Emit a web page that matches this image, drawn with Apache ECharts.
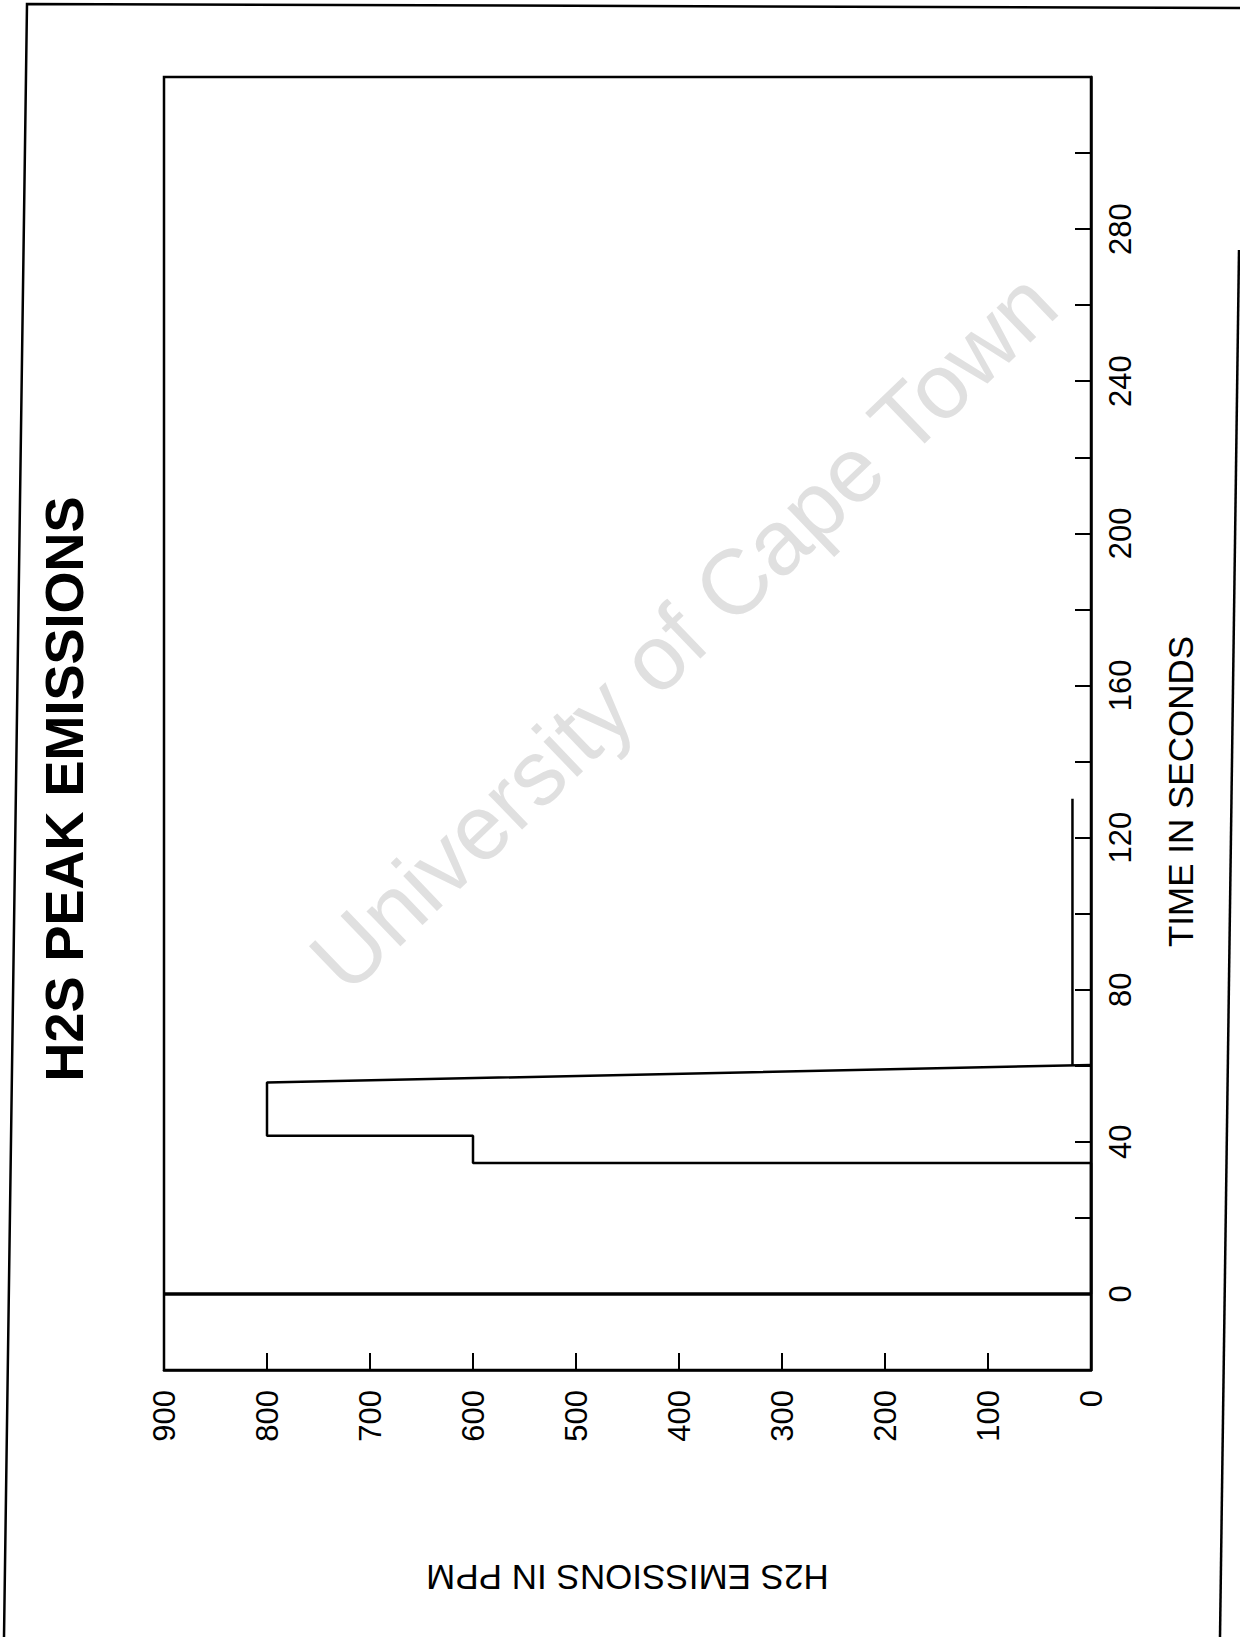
<!DOCTYPE html>
<html>
<head>
<meta charset="utf-8">
<script src="https://cdn.jsdelivr.net/npm/echarts@6/dist/echarts.min.js"></script>
<style>
html,body{margin:0;padding:0;background:#fff;}
#chart{width:1240px;height:1637px;}
</style>
</head>
<body>
<div id="chart"></div>
<script>
// ---- data ----
const titleText = 'H2S PEAK EMISSIONS';
const ppmAxisName = 'H2S EMISSIONS IN PPM';
const timeAxisName = 'TIME IN SECONDS';
const watermarkText = 'University of Cape Town';

// spike at t = 0 (ppm, time)
const spikePpm  = [0, 900];
const spikeTime = [0, 0];
// main step trace
const stepPpm  = [0, 0,    600,  600,  800,  800,  0];
const stepTime = [0, 34.4, 34.4, 41.6, 41.6, 55.6, 60.2];
// low tail after the peak
const tailPpm  = [18,   18];
const tailTime = [60.1, 130.2];

const ppmTicks  = [0, 100, 200, 300, 400, 500, 600, 700, 800, 900];
const timeLabels = [0, 40, 80, 120, 160, 200, 240, 280];

function pairs(xs, ys){ return xs.map((x,i)=>[x, ys[i]]); }

const FONT = '"Liberation Sans", Arial, Helvetica, sans-serif';
const chart = echarts.init(document.getElementById('chart'), null, {renderer:'svg', width:1240, height:1637});

const lineBase = {type:'line', showSymbol:false, symbol:'none', animation:false, silent:true, clip:true};

chart.setOption({
  backgroundColor:'#ffffff',
  animation:false,
  grid:{left:164, right:149, top:77, bottom:267, show:true, borderColor:'#000', borderWidth:2.5, backgroundColor:'transparent'},
  xAxis:{
    type:'value', min:0, max:900, interval:100, inverse:true, position:'bottom',
    axisLine:{show:true, onZero:false, lineStyle:{color:'#000', width:2.5}},
    axisTick:{show:true, inside:true, length:17, lineStyle:{color:'#000', width:2}},
    splitLine:{show:false},
    axisLabel:{show:true, rotate:90, margin:20, color:'#000', fontSize:31, fontFamily:FONT,
      formatter:function(v){ return ppmTicks.indexOf(v) >= 0 ? String(v) : ''; }},
    name: ppmAxisName, nameLocation:'middle', nameRotate:180, nameGap:190,
    nameTextStyle:{color:'#000', fontSize:35, fontFamily:FONT}
  },
  yAxis:{
    type:'value', min:-20, max:320, interval:20, position:'right',
    axisLine:{show:true, onZero:false, lineStyle:{color:'#000', width:2.5}},
    axisTick:{show:true, inside:true, length:16, lineStyle:{color:'#000', width:2}},
    splitLine:{show:false},
    axisLabel:{show:true, rotate:90, margin:14, color:'#000', fontSize:31, fontFamily:FONT,
      formatter:function(v){ return timeLabels.indexOf(v) >= 0 ? String(v) : ''; }},
    name: timeAxisName, nameLocation:'middle', nameRotate:90, nameGap:72,
    nameTextStyle:{color:'#000', fontSize:35, fontFamily:FONT, padding:[0,136,0,0]}
  },
  graphic:[
    {type:'text', z:0, silent:true, x:683, y:631, rotation:43.8*Math.PI/180,
      style:{text:watermarkText, fill:'#e0e0e0', font:'92px '+FONT, textAlign:'center', textVerticalAlign:'middle'}},
    {type:'text', z:10, silent:true, x:64, y:789, rotation:Math.PI/2,
      style:{text:titleText, fill:'#000', font:'bold 54px '+FONT, textAlign:'center', textVerticalAlign:'middle'}},
    {type:'polyline', z:10, silent:true, shape:{points:[[4,1637],[27,4],[1240,8]]}, style:{stroke:'#000', lineWidth:2.5, fill:null}},
    {type:'line', z:10, silent:true, shape:{x1:1239, y1:250, x2:1220, y2:1637}, style:{stroke:'#000', lineWidth:2.5}}
  ],
  series:[
    Object.assign({}, lineBase, {data:pairs(spikePpm, spikeTime), lineStyle:{color:'#000', width:3.5}}),
    Object.assign({}, lineBase, {data:pairs(stepPpm, stepTime), lineStyle:{color:'#000', width:2.5}}),
    Object.assign({}, lineBase, {data:pairs(tailPpm, tailTime), lineStyle:{color:'#000', width:2.5}})
  ]
});
</script>
</body>
</html>
